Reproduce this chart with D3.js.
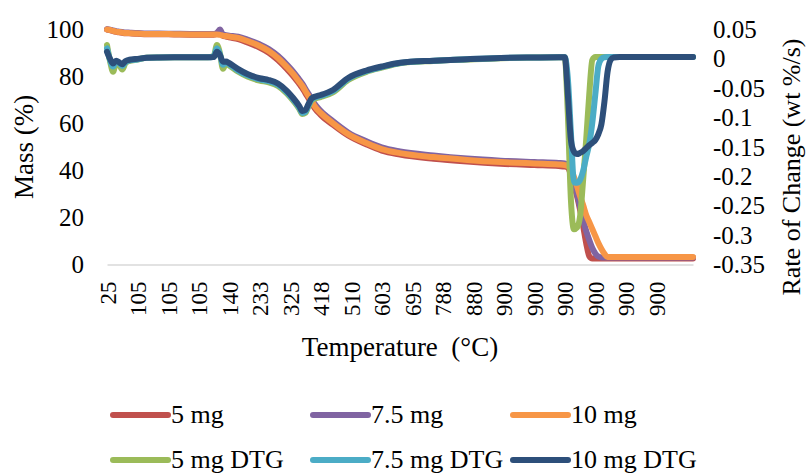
<!DOCTYPE html>
<html>
<head>
<meta charset="utf-8">
<script src="https://cdn.jsdelivr.net/npm/d3@7"></script>
<style>
  body { margin: 0; background: #fff; }
  svg text { font-family: "Liberation Serif", "Times New Roman", serif; fill: #000; }
</style>
</head>
<body>
<div id="chart"></div>
<script>
// category labels shown on the x axis (one every 10 points)
var tempLabels = ["25","105","105","105","140","233","325","418","510","603","695","788","880","900","900","900","900","900","900"];

// point index (category position) of each sample
var sampleIdx = [0,1,2,3,4,5,6,7,8,10,13,17,22,28,33,35,36,37,38,39,40,43,46,50,53,56,59,61,63,64,65,66,67,68,70,
  74,79,85,90,96,107,118,129,140,148,150,151,152,153,154,155,156,157,158,159,160,161,162,163,164,165,166,168,172,180,192];

// mass (%) - left axis
var mass5 = [100.0,99.7,99.3,99.0,98.8,98.6,98.4,98.4,98.3,98.2,98.0,98.0,97.9,97.8,97.8,97.8,98.2,99.6,97.4,97.0,96.7,
  95.9,94.5,92.3,90.1,87.0,83.1,80.2,76.8,75.1,72.9,70.8,68.7,66.6,63.7,
  59.5,54.9,51.1,48.5,46.8,45.0,43.8,42.9,42.3,41.9,41.7,
  41.3,38.1,33.8,29.1,23.2,16.4,9.1,3.6,2.6,2.6,2.6,2.6,2.6,2.6,2.6,2.6,2.6,2.6,2.6,2.6];
var mass75 = [100.1,99.9,99.6,99.3,99.1,98.9,98.7,98.7,98.6,98.5,98.3,98.3,98.2,98.1,98.1,98.1,98.5,100.0,97.8,97.6,97.4,
  96.9,95.7,93.7,91.7,88.8,85.0,82.1,78.7,77.0,74.8,72.7,70.6,68.4,65.4,
  61.0,56.2,52.4,49.8,48.1,46.4,45.1,44.2,43.6,43.2,43.0,
  42.4,40.2,35.1,30.0,24.5,19.0,14.3,10.4,7.0,4.7,3.4,3.0,3.0,3.0,3.0,3.0,3.0,3.0,3.0,3.0];
var mass10 = [100.0,99.8,99.4,99.1,98.9,98.7,98.5,98.5,98.4,98.3,98.1,98.1,98.0,97.9,97.9,97.9,97.9,97.7,97.4,97.2,97.0,
  96.4,95.1,93.0,90.9,87.9,84.0,81.1,77.7,76.0,73.8,71.7,69.6,67.4,64.5,
  60.2,55.5,51.7,49.1,47.4,45.7,44.5,43.6,43.0,42.6,42.3,
  41.9,40.6,37.2,33.4,29.1,25.3,21.1,18.1,15.1,12.1,9.1,6.6,4.5,3.2,3.2,3.2,3.2,3.2,3.2,3.2];

// rate of change (wt %/s) - right axis
var dtg5 = [0.0236,-0.004,-0.022,-0.005,-0.010,-0.018,-0.008,-0.004,-0.003,-0.001,0.002,0.0025,0.0027,0.0027,0.0027,
  0.005,0.0236,0.010,-0.017,-0.008,-0.011,
  -0.022,-0.030,-0.037,-0.040,-0.046,-0.059,-0.071,-0.085,-0.094,-0.092,-0.081,-0.071,-0.068,-0.065,
  -0.057,-0.036,-0.022,-0.015,-0.0075,-0.0035,-0.001,0.0012,0.0023,0.0027,0.0027,
  -0.0955,-0.24,-0.29,-0.287,-0.268,-0.206,-0.138,-0.0615,-0.002,0.003,0.003,0.003,0.003,0.003,0.003,0.003,
  0.003,0.003,0.003,0.003];
var dtg75 = [0.018,-0.002,-0.013,-0.004,-0.007,-0.012,-0.006,-0.003,-0.002,-0.001,0.002,0.0025,0.0027,0.0027,0.0027,
  0.004,0.018,0.008,-0.010,-0.006,-0.009,
  -0.020,-0.028,-0.035,-0.038,-0.044,-0.057,-0.069,-0.083,-0.092,-0.090,-0.079,-0.069,-0.066,-0.063,
  -0.055,-0.034,-0.021,-0.014,-0.007,-0.003,-0.0005,0.0015,0.0023,0.0027,0.0027,
  -0.034,-0.126,-0.2096,-0.211,-0.206,-0.191,-0.167,-0.145,-0.109,-0.060,-0.012,0.000,0.0027,0.003,0.003,0.003,
  0.003,0.003,0.003,0.003];
var dtg10 = [0.012,0.000,-0.008,-0.003,-0.006,-0.009,-0.004,-0.002,-0.001,0.000,0.002,0.0025,0.0027,0.0027,0.0027,
  0.003,0.012,0.0066,-0.005,-0.0045,-0.007,
  -0.0174,-0.0257,-0.033,-0.036,-0.042,-0.0548,-0.0666,-0.0804,-0.0887,-0.087,-0.077,-0.0675,-0.0645,-0.0615,
  -0.053,-0.0326,-0.0198,-0.013,-0.0065,-0.003,-0.0005,0.0015,0.0023,0.0027,0.0027,
  -0.0615,-0.138,-0.158,-0.162,-0.160,-0.157,-0.152,-0.147,-0.143,-0.138,-0.128,-0.111,-0.072,-0.0224,-0.002,0.0023,
  0.003,0.003,0.003,0.003];

var seriesNames = ["5 mg","7.5 mg","10 mg","5 mg DTG","7.5 mg DTG","10 mg DTG"];
var seriesColors = ["#C0504D","#8064A2","#F79646","#9BBB59","#4BACC6","#2D4F7A"];

var width = 807, height = 474;
var plot = {left: 107, right: 693, top: 29.5, bottom: 264.5};

var svg = d3.select("#chart").append("svg")
  .attr("width", width)
  .attr("height", height);

var x = d3.scaleLinear().domain([0, 192]).range([plot.left, plot.right]);
var yLeft = d3.scaleLinear().domain([0, 100]).range([plot.bottom, plot.top]);
var yRight = d3.scaleLinear().domain([-0.35, 0.05]).range([plot.bottom, plot.top]);

// x axis (category labels rotated)
var xAxis = d3.axisBottom(x)
  .tickValues(tempLabels.map(function(d, i) { return i * 10; }))
  .tickFormat(function(d, i) { return tempLabels[i]; })
  .tickSize(0);

var gx = svg.append("g")
  .attr("transform", "translate(0," + plot.bottom + ")")
  .call(xAxis);
gx.select(".domain").attr("stroke", "#D9D9D9").attr("stroke-width", 1.3);
gx.selectAll("text")
  .attr("transform", "rotate(-90)")
  .attr("x", -17)
  .attr("y", 0)
  .attr("dy", "0.35em")
  .style("text-anchor", "end")
  .style("font-size", "23px");

// left axis
var gl = svg.append("g")
  .attr("transform", "translate(" + plot.left + ",0)")
  .call(d3.axisLeft(yLeft).tickValues([0, 20, 40, 60, 80, 100]).tickSize(0));
gl.select(".domain").remove();
gl.selectAll("text")
  .attr("x", -23)
  .style("text-anchor", "end")
  .style("font-size", "25px");

// right axis
var gr = svg.append("g")
  .attr("transform", "translate(" + plot.right + ",0)")
  .call(d3.axisRight(yRight)
    .tickValues([0.05, 0, -0.05, -0.1, -0.15, -0.2, -0.25, -0.3, -0.35])
    .tickFormat(function(d) { return String(+d.toFixed(2)); })
    .tickSize(0));
gr.select(".domain").remove();
gr.selectAll("text")
  .attr("x", 20)
  .style("text-anchor", "start")
  .style("font-size", "25px");

// axis titles
svg.append("text")
  .attr("x", 400).attr("y", 356)
  .attr("text-anchor", "middle")
  .style("font-size", "27px")
  .style("white-space", "pre")
  .text("Temperature  (\u00B0C)");

svg.append("text")
  .attr("transform", "translate(33,147) rotate(-90)")
  .attr("text-anchor", "middle")
  .style("font-size", "27px")
  .text("Mass (%)");

svg.append("text")
  .attr("transform", "translate(800,167) rotate(-90)")
  .attr("text-anchor", "middle")
  .style("font-size", "26px")
  .text("Rate of Change (wt %/s)");

// lines
var allSeries = [mass5, mass75, mass10, dtg5, dtg75, dtg10];

allSeries.forEach(function(values, s) {
  var yScale = s < 3 ? yLeft : yRight;
  var line = d3.line()
    .x(function(d, i) { return x(sampleIdx[i]); })
    .y(function(d) { return yScale(d); })
    .curve(d3.curveMonotoneX);
  svg.append("path")
    .datum(values)
    .attr("d", line)
    .attr("fill", "none")
    .attr("stroke", seriesColors[s])
    .attr("stroke-width", 6)
    .attr("stroke-linejoin", "round")
    .attr("stroke-linecap", "round");
});

// legend
var legend = svg.append("g");
seriesNames.forEach(function(name, i) {
  var col = i % 3, row = Math.floor(i / 3);
  var lx = 113 + col * 200, ly = 415 + row * 45;
  legend.append("line")
    .attr("x1", lx).attr("x2", lx + 55)
    .attr("y1", ly).attr("y2", ly)
    .attr("stroke", seriesColors[i])
    .attr("stroke-width", 6)
    .attr("stroke-linecap", "round");
  legend.append("text")
    .attr("x", lx + 58).attr("y", ly + 8)
    .style("font-size", "26px")
    .text(name);
});
</script>
</body>
</html>
